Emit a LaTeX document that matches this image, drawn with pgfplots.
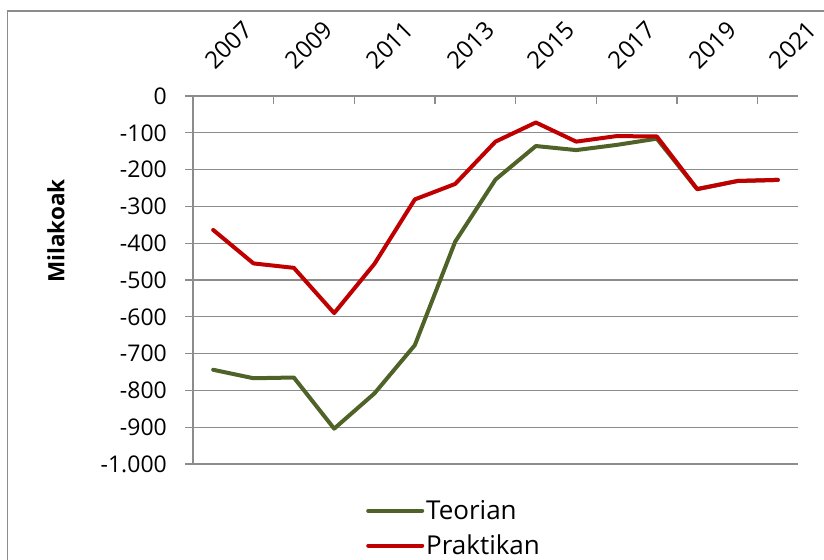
\documentclass[border=0pt]{standalone}
\usepackage{pgfplots}
\pgfplotsset{compat=1.18}
\usepackage{fontspec}
\setmainfont{Open Sans}
\definecolor{teo}{HTML}{4F6228}
\definecolor{pra}{HTML}{C00000}
\definecolor{gridc}{HTML}{8C8C8C}
\begin{document}
\begin{tikzpicture}[x=1bp,y=1bp]
\useasboundingbox (0,0) rectangle (824,560);
\draw[gridc, line width=1.5bp] (7.5,-20) -- (7.5,549) -- (850,549);
\node[rotate=90, font=\fontsize{22.5bp}{27bp}\selectfont\bfseries] at (56,329) {Milakoak};
\begin{axis}[
  at={(193bp,96bp)}, anchor=south west, scale only axis,
  width=605bp, height=368bp,
  xmin=-0.5, xmax=14.5, ymin=-1000, ymax=0,
  axis x line*=top, axis y line*=left,
  axis line style={gridc, line width=1.2bp},
  tick align=inside, major tick length=8bp,
  every tick/.style={gridc, line width=1.2bp},
  y tick style={xshift=-8bp},
  xtick={-0.5,1.5,...,13.5}, xticklabels={},
  extra x ticks={0,2,...,14},
  extra x tick labels={2007,2009,2011,2013,2015,2017,2019,2021},
  extra x tick style={major tick length=0bp},
  xticklabel style={yshift=25bp, xshift=2bp, rotate=45, anchor=south west, inner sep=0pt,
      font=\fontsize{24bp}{28bp}\selectfont},
  ytick={-1000,-900,...,0},
  yticklabels={-1.000,-900,-800,-700,-600,-500,-400,-300,-200,-100,0},
  yticklabel style={anchor=east, inner sep=0pt, xshift=-26bp,
      font=\fontsize{23bp}{26bp}\selectfont},
  ymajorgrids, major grid style={gridc, line width=1.2bp},
  legend style={at={(0.286,-0.093)}, anchor=north west, draw=none, fill=none,
    inner sep=0pt, row sep=10bp, font=\fontsize{26bp}{32bp}\selectfont,
    /tikz/every even column/.append style={column sep=0bp}},
  legend cell align=left,
  legend image code/.code={\draw[#1] (0bp,0bp) -- (54bp,0bp);},
  every axis plot/.append style={line width=4bp, line join=round, line cap=round},
]
\addplot[teo] table {
x y
0 -744
1 -767
2 -765
3 -904
4 -808
5 -677
6 -396
7 -227
8 -136
9 -147
10 -133
11 -116
12 -253
13 -231
14 -228
};
\addlegendentry{Teorian}
\addplot[pra] table {
x y
0 -364
1 -455
2 -467
3 -590
4 -456
5 -281
6 -239
7 -124
8 -72
9 -124
10 -109
11 -110
12 -253
13 -231
14 -228
};
\addlegendentry{Praktikan}
\end{axis}
\end{tikzpicture}
\end{document}
